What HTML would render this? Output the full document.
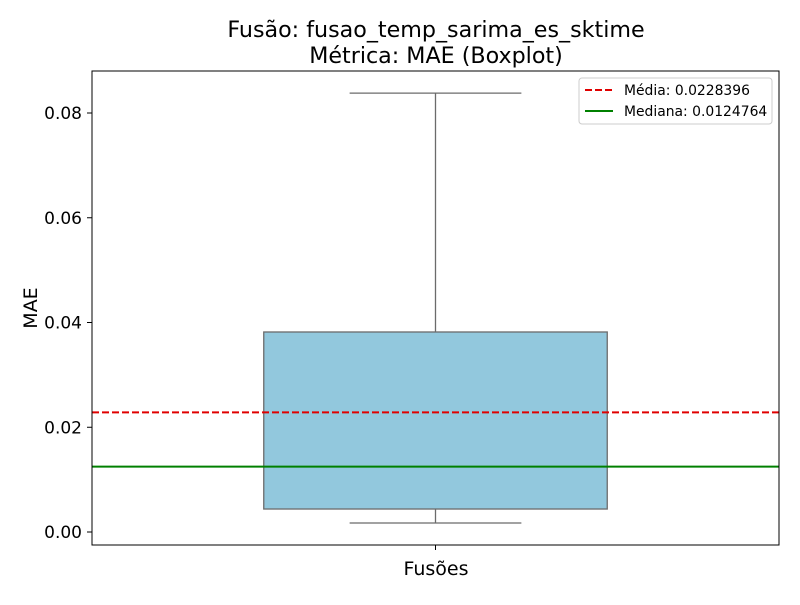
<!DOCTYPE html>
<html><head><meta charset="utf-8"><style>
body{margin:0;background:#fff;}
svg text{font-family:"DejaVu Sans","Liberation Sans",sans-serif;}
</style></head><body>
<svg id="chart" width="800" height="600" xmlns="http://www.w3.org/2000/svg">
<rect width="800" height="600" fill="#fff"/>
<text x="436" y="37" font-size="22.2" text-anchor="middle">Fusão: fusao_temp_sarima_es_sktime</text>
<text x="436" y="63" font-size="22.2" text-anchor="middle">Métrica: MAE (Boxplot)</text>
<g id="plot"></g>
<text x="436" y="575" font-size="19" text-anchor="middle">Fusões</text>
<text x="37" y="308" font-size="19" text-anchor="middle" transform="rotate(-90 37 308)">MAE</text>
</svg>
<script>
const categories = ["Fusões"];
const whiskerLow = [0.00172];
const q1 = [0.00439];
const median = [0.0124764];
const q3 = [0.03819];
const whiskerHigh = [0.0838];
const meanValue = 0.0228396;
const medianValue = 0.0124764;
const yTicks = [0, 0.02, 0.04, 0.06, 0.08];
const yTickLabels = ["0.00", "0.02", "0.04", "0.06", "0.08"];

const L=92,R=779,T=71,B=545, yMin=-0.00248, yMax=0.08802;
const y=v=>B-(v-yMin)/(yMax-yMin)*(B-T);
const xc=i=>L+(R-L)*(i+0.5)/categories.length;
const NS="http://www.w3.org/2000/svg";
const g=document.getElementById('plot');
function mk(tag,attrs){const e=document.createElementNS(NS,tag);for(const k in attrs)e.setAttribute(k,attrs[k]);g.appendChild(e);return e;}

yTicks.forEach((t,i)=>{
  const tk=mk('line',{x1:L-5,x2:L,y1:y(t),y2:y(t),stroke:'#000','stroke-width':1});
  
  
  const tx=mk('text',{x:L-10,y:y(t)+6,'font-size':17,'text-anchor':'end'});
  tx.textContent=yTickLabels[i];
  
  
});

categories.forEach((c,i)=>{
  const cx=xc(i), bw=(R-L)*0.5, cw=bw*0.5;
  const w1=mk('line',{x1:cx,x2:cx,y1:y(whiskerLow[i]),y2:y(q1[i]),stroke:'#6b6b6b','stroke-width':1.3});
  
  
  const w2=mk('line',{x1:cx,x2:cx,y1:y(q3[i]),y2:y(whiskerHigh[i]),stroke:'#6b6b6b','stroke-width':1.3});
  
  
  const c1=mk('line',{x1:cx-cw/2,x2:cx+cw/2,y1:y(whiskerLow[i]),y2:y(whiskerLow[i]),stroke:'#6b6b6b','stroke-width':1.3});
  
  
  const c2=mk('line',{x1:cx-cw/2,x2:cx+cw/2,y1:y(whiskerHigh[i]),y2:y(whiskerHigh[i]),stroke:'#6b6b6b','stroke-width':1.3});
  
  
  const b=mk('rect',{x:cx-bw/2,y:y(q3[i]),width:bw,height:y(q1[i])-y(q3[i]),fill:'#92c8dd',stroke:'#6b6b6b','stroke-width':1.3});
  
  
  const m=mk('line',{x1:cx-bw/2,x2:cx+bw/2,y1:y(median[i]),y2:y(median[i]),stroke:'#6b6b6b','stroke-width':1.3});
  
  
  const xt=mk('line',{x1:cx,x2:cx,y1:B,y2:B+5,stroke:'#000'});
  
  
});

const ml=mk('line',{x1:L,x2:R,y1:y(meanValue),y2:y(meanValue),stroke:'#e00000','stroke-width':2,'stroke-dasharray':'7,3'});


const mdl=mk('line',{x1:L,x2:R,y1:y(medianValue),y2:y(medianValue),stroke:'#008000','stroke-width':2});



const fr=mk('rect',{x:L,y:T,width:R-L,height:B-T,fill:'none',stroke:'#000','stroke-width':1});



const lg=mk('rect',{x:579,y:78,width:193,height:46,fill:'#fff','fill-opacity':0.8,stroke:'#ccc',rx:3});


const l1=mk('line',{x1:585,x2:613,y1:90,y2:90,stroke:'#e00000','stroke-width':2,'stroke-dasharray':'7,3'});


const t1=mk('text',{x:624,y:95,'font-size':13.9});
t1.textContent='Média: '+meanValue.toFixed(7);


const l2=mk('line',{x1:585,x2:613,y1:111,y2:111,stroke:'#008000','stroke-width':2});


const t2=mk('text',{x:624,y:116,'font-size':13.9});
t2.textContent='Mediana: '+medianValue.toFixed(7);


</script>
</body></html>
